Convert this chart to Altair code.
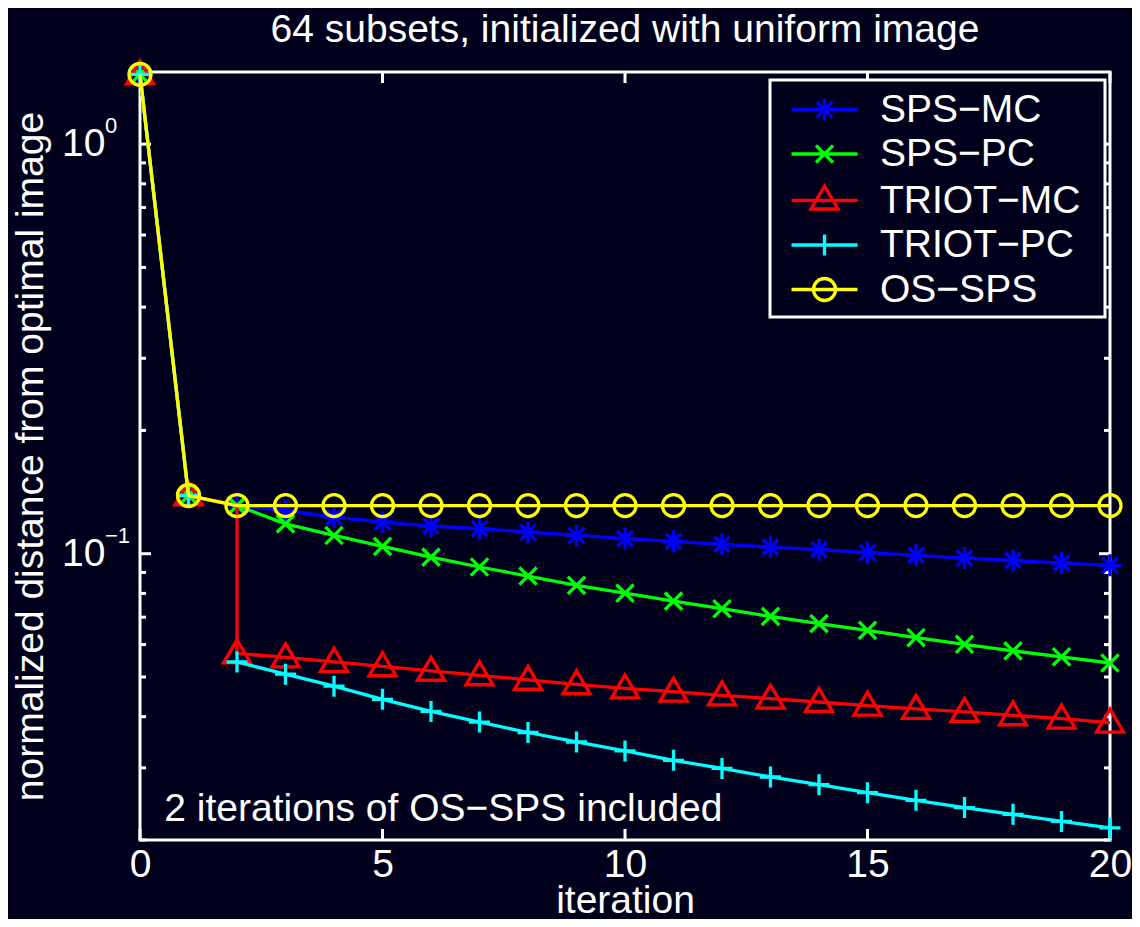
import altair as alt
import pandas as pd

BG = "#00001c"
FONT = "Liberation Sans"

title_text = "64 subsets, initialized with uniform image"
x_title = "iteration"
y_title = "normalized distance from optimal image"
note_text = "2 iterations of OS−SPS included"
note_pos = [0.5, 0.0222]

series_names = ["SPS−MC", "SPS−PC", "TRIOT−MC", "TRIOT−PC", "OS−SPS"]
series_colors = ["#0000ff", "#00ff00", "#ff0000", "#00ffff", "#ffff00"]

# plot markers (unit box -1..1)
marker_paths = [
    "M-1,0H1M0,-1V1M-0.7,-0.7L0.7,0.7M-0.7,0.7L0.7,-0.7",
    "M-1,-1L1,1M-1,1L1,-1",
    "M0,-1L-1,0.7L1,0.7Z",
    "M-1,0H1M0,-1V1",
    "circle",
]
marker_sizes = [484, 300, 729, 441, 484]

# legend symbols: line sample + marker (unit = 10 px with symbolSize 400)
legend_paths = [
    "M-3.3,0H3.3M-1.1,0H1.1M0,-1.1V1.1M-0.78,-0.78L0.78,0.78M-0.78,0.78L0.78,-0.78",
    "M-3.3,0H3.3M-0.85,-0.85L0.85,0.85M-0.85,0.85L0.85,-0.85",
    "M-3.3,0H3.3M0,-1.45L-1.35,0.85L1.35,0.85Z",
    "M-3.3,0H3.3M-1.05,0H1.05M0,-1.05V1.05",
    "M-3.3,0H3.3M-1.1,0A1.1,1.1,0,1,1,1.1,0A1.1,1.1,0,1,1,-1.1,0",
]

iters = [0, 1, 2, 3, 4, 5, 6, 7, 8, 9, 10, 11, 12, 13, 14, 15, 16, 17, 18, 19, 20]

sps_mc = [1.48, 0.1387, 0.131, 0.1275, 0.1229, 0.1195, 0.1168, 0.1151, 0.1129, 0.1108,
          0.1088, 0.1072, 0.1054, 0.1038, 0.1023, 0.1006, 0.0991, 0.0976, 0.0963, 0.0949, 0.0937]
sps_pc = [1.48, 0.1387, 0.131, 0.1183, 0.1108, 0.1042, 0.0981, 0.0928, 0.0882, 0.0837,
          0.0801, 0.0766, 0.0734, 0.0703, 0.0675, 0.0650, 0.0624, 0.0601, 0.0579, 0.0560, 0.0541]
# TRIOT-MC: iteration 2 listed twice (OS-SPS value, then first TRIOT value)
triot_mc_iters = [0, 1, 2, 2, 3, 4, 5, 6, 7, 8, 9, 10, 11, 12, 13, 14, 15, 16, 17, 18, 19, 20]
triot_mc = [1.48, 0.1387, 0.131, 0.0571, 0.05585, 0.05445, 0.0531, 0.05177, 0.05048, 0.04922,
            0.04799, 0.0469, 0.04604, 0.0451, 0.04427, 0.04345, 0.04258, 0.04178, 0.04108,
            0.04032, 0.03958, 0.0387]
triot_mc_marker = [True, True, False, True, True, True, True, True, True, True, True,
                   True, True, True, True, True, True, True, True, True, True, True]
triot_pc = [1.48, 0.1387, 0.0544, 0.0508, 0.0475, 0.0441, 0.0412, 0.0388, 0.0366, 0.0347,
            0.0330, 0.0313, 0.0299, 0.0285, 0.0273, 0.0261, 0.0250, 0.0240, 0.0231, 0.0222, 0.0214]
triot_pc_segment = [0, 0, 1, 1, 1, 1, 1, 1, 1, 1, 1, 1, 1, 1, 1, 1, 1, 1, 1, 1, 1]
os_sps = [1.48, 0.1387, 0.131, 0.131, 0.131, 0.131, 0.131, 0.131, 0.131, 0.131,
          0.131, 0.131, 0.131, 0.131, 0.131, 0.131, 0.131, 0.131, 0.131, 0.131, 0.131]

x_ticks = [0, 5, 10, 15, 20]
y_major = [1.0, 0.1]
y_major_base = ["10", "10"]
y_major_exp = ["0", "−1"]
y_minor = [0.02, 0.03, 0.04, 0.05, 0.06, 0.07, 0.08, 0.09,
           0.2, 0.3, 0.4, 0.5, 0.6, 0.7, 0.8, 0.9]

W, H = 970, 768
LW = 3.3

series_data = [
    (iters, sps_mc, None, None),
    (iters, sps_pc, None, None),
    (triot_mc_iters, triot_mc, triot_mc_marker, None),
    (iters, triot_pc, None, triot_pc_segment),
    (iters, os_sps, None, None),
]

xscale = alt.Scale(domain=[0, 20], nice=False, zero=False)
yscale = alt.Scale(type="log", domain=[0.02, 1.5], nice=False)

xaxis = alt.Axis(values=x_ticks, labelFontSize=39, labelFont=FONT, labelColor="white",
                 domain=False, ticks=False, tickSize=0, grid=False, labelPadding=5,
                 labelFlush=False, title=x_title, titleFontSize=39, titleFont=FONT,
                 titleFontWeight="normal", titleColor="white", titleY=72,
                 titleX=W / 2, titleBaseline="alphabetic")
yaxis = alt.Axis(labels=False, domain=False, ticks=False, grid=False, title=y_title,
                 titleFontSize=39, titleFont=FONT, titleFontWeight="normal",
                 titleColor="white", titleX=-98, titleY=H / 2, titleAngle=270,
                 titleBaseline="alphabetic", titleAlign="center")


def X(field="iteration"):
    return alt.X(f"{field}:Q", scale=xscale, axis=xaxis)


def Y(field="value"):
    return alt.Y(f"{field}:Q", scale=yscale, axis=yaxis)


layers = []

# inward ticks on all four sides
ymaj = pd.DataFrame({"value": y_major})
ymin = pd.DataFrame({"value": y_minor})
xt = pd.DataFrame({"iteration": x_ticks})
tick_style = dict(color="white", strokeWidth=3)
layers.append(alt.Chart(ymaj).mark_rule(**tick_style).encode(y=Y(), x=alt.value(0), x2=alt.value(11)))
layers.append(alt.Chart(ymaj).mark_rule(**tick_style).encode(y=Y(), x=alt.value(W), x2=alt.value(W - 11)))
layers.append(alt.Chart(ymin).mark_rule(**tick_style).encode(y=Y(), x=alt.value(0), x2=alt.value(6)))
layers.append(alt.Chart(ymin).mark_rule(**tick_style).encode(y=Y(), x=alt.value(W), x2=alt.value(W - 6)))
layers.append(alt.Chart(xt).mark_rule(**tick_style).encode(x=X(), y=alt.value(H), y2=alt.value(H - 11)))
layers.append(alt.Chart(xt).mark_rule(**tick_style).encode(x=X(), y=alt.value(0), y2=alt.value(11)))

for k, name in enumerate(series_names):
    its, vals, mk, seg = series_data[k]
    n = len(vals)
    df = pd.DataFrame({
        "iteration": its,
        "value": vals,
        "idx": list(range(n)),
        "marker": mk if mk is not None else [True] * n,
        "segment": seg if seg is not None else [0] * n,
    })
    line = alt.Chart(df).mark_line(color=series_colors[k], strokeWidth=LW).encode(
        x=X(), y=Y(), detail="segment:N", order="idx:Q")
    pts = alt.Chart(df).transform_filter("datum.marker").mark_point(
        shape=marker_paths[k], size=marker_sizes[k], color=series_colors[k],
        filled=False, strokeWidth=LW, opacity=1).encode(x=X(), y=Y())
    layers += [line, pts]

# y tick labels (10 with superscript exponent)
ylab = pd.DataFrame({"value": y_major, "base": y_major_base, "exp": y_major_exp})
layers.append(alt.Chart(ylab).mark_text(align="left", baseline="middle", fontSize=39,
                                        font=FONT, color="white").encode(
    y=Y(), x=alt.value(-78), text="base:N"))
layers.append(alt.Chart(ylab).mark_text(align="left", baseline="alphabetic", fontSize=22,
                                        font=FONT, color="white", dy=-11).encode(
    y=Y(), x=alt.value(-35), text="exp:N"))

# annotation
note = pd.DataFrame({"iteration": [note_pos[0]], "value": [note_pos[1]], "t": [note_text]})
layers.append(alt.Chart(note).mark_text(align="left", baseline="alphabetic", fontSize=39,
                                        font=FONT, color="white").encode(
    x=X(), y=Y(), text="t:N"))

# chart title, centred above the plot
ttl = pd.DataFrame({"t": [title_text]})
layers.append(alt.Chart(ttl).mark_text(align="center", baseline="alphabetic", fontSize=39,
                                       font=FONT, color="white").encode(
    x=alt.value(W / 2), y=alt.value(-30), text="t:N"))

# legend frame
frame = pd.DataFrame({"k": [0]})
layers.append(alt.Chart(frame).mark_rect(fill=BG, stroke="white", strokeWidth=3).encode(
    x=alt.value(630), x2=alt.value(965), y=alt.value(8), y2=alt.value(245)))

# legend layer (points placed outside the domain and clipped)
leg_df = pd.DataFrame({"series": series_names, "iteration": [-10] * 5, "value": [0.1] * 5})
leg_props = dict(title=None, orient="none", legendX=630, legendY=10, padding=8,
                 symbolSize=400, symbolStrokeWidth=LW, symbolOffset=27,
                 labelOffset=36, labelFontSize=39, labelFont=FONT, labelColor="white",
                 labelLimit=500, rowPadding=4.5)
layers.append(alt.Chart(leg_df).mark_point(clip=True, filled=False, strokeWidth=LW, opacity=1).encode(
    x=X(), y=Y(),
    color=alt.Color("series:N", scale=alt.Scale(domain=series_names, range=series_colors),
                    legend=alt.Legend(**leg_props)),
    shape=alt.Shape("series:N", scale=alt.Scale(domain=series_names, range=legend_paths),
                    legend=alt.Legend(**leg_props)),
))

chart = alt.layer(*layers).properties(
    width=W, height=H,
    autosize=alt.AutoSizeParams(type="none"),
    padding={"left": 132, "top": 64, "right": 22, "bottom": 79},
    background=BG,
).configure_view(stroke="white", strokeWidth=3)

chart.save("out.html", embed_options={"renderer": "svg", "actions": False})
